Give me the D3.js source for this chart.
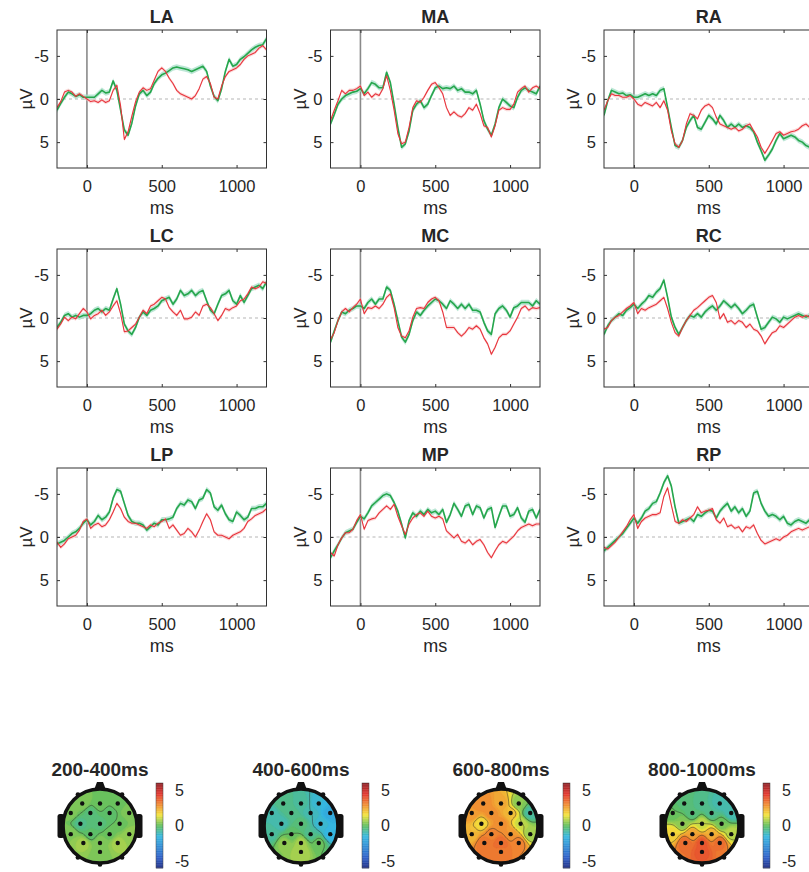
<!DOCTYPE html>
<html>
<head>
<meta charset="utf-8">
<script src="https://cdn.jsdelivr.net/npm/d3@7"></script>
<style>
body { margin: 0; background: #fff; overflow: hidden; }
text { font-family: "Liberation Sans", Arial, Helvetica, sans-serif; fill: #262626; }
</style>
</head>
<body>
<div id="chart"></div>
<script>
// time grid (ms)
var times = [-200,-175,-150,-125,-100,-75,-50,-25,0,25,50,75,100,125,150,175,200,225,250,275,300,325,350,375,400,
  425,450,475,500,525,550,575,600,625,650,675,700,725,750,775,800,825,850,875,900,925,950,975,1000,
  1025,1050,1075,1100,1125,1150,1175,1200];

var regions = ["LA", "MA", "RA", "LC", "MC", "RC", "LP", "MP", "RP"];
var xTicks = [0, 500, 1000];
var yTicks = [-5, 0, 5];

// waveforms in µV (negative plotted up)
var LA_green = [1.3,0.5,-0.2,-0.8,-0.6,-0.3,-0.5,-0.2, -0.2, -0.2,-0.2,-0.6,-1.0, -0.7,-0.8,-2.1,-1.0, 1.3,3.6,4.2,2.8, 0.8,-0.6,-1.0,-0.4, -0.8,-1.8,-2.4,-2.8, -3.0,-3.3,-3.6,-3.7, -3.6,-3.5,-3.4,-3.2, -3.4,-3.6,-3.8,-3.2, -1.5,-0.3,0.2,-1.2, -3.2,-4.6,-3.8,-4.0, -4.6,-4.9,-5.3,-5.7, -6.0,-6.2,-6.3,-7.0];
var LA_red = [1.0,0.3,-0.8,-1.0,-0.8,-0.3,-0.6,-0.3, 0.0, 0.3,0.2,0.4,0.1, 0.4,0.2,-1.0,-1.6, 0.8,4.7,3.8,2.0, 0.3,-0.8,-1.3,-1.0, -1.2,-2.2,-3.2,-3.6, -3.2,-2.4,-1.8,-1.0, -0.6,-0.4,-0.2,0.0, -0.4,-1.2,-2.3,-2.6, -1.8,-0.2,0.0,-1.5, -2.6,-3.2,-3.4,-3.6, -4.0,-4.6,-5.0,-5.2, -5.4,-5.9,-6.2,-5.7];
var MA_green = [2.9,1.8,0.6,0.0,-0.4,-0.6,-0.8,-0.9, -1.2, -0.6,-1.2,-1.9,-1.7, -1.3,-1.3,-3.1,-1.9, 0.6,3.3,5.6,5.2, 3.7,1.3,0.6,0.2, 1.0,0.6,-0.4,-1.3, -1.5,-1.2,-1.3,-1.2, -1.5,-1.0,-1.2,-0.8, -0.8,-0.6,-1.0,0.6, 2.5,3.5,4.2,2.9, 1.0,0.0,0.4,0.8, 1.0,-0.2,-1.0,-1.3, -1.0,-0.8,-0.6,-1.5];
var MA_red = [2.5,1.3,0.2,-1.0,-0.6,-1.0,-1.0,-1.2, -1.5, -0.4,-0.8,-0.2,-0.6, -0.4,-1.2,-2.7,-1.0, 1.3,4.0,5.2,5.0, 3.3,1.0,0.2,0.4, -0.2,-1.0,-1.7,-1.9, -1.3,-0.6,1.0,1.9, 1.5,1.9,2.1,1.7, 1.0,1.3,0.6,1.7, 3.1,3.3,4.4,3.1, 1.3,1.0,1.2,1.2, 0.6,-0.8,-1.2,-1.5, -0.8,-1.3,-1.5,-1.2];
var RA_green = [1.9,0.2,-1.0,-0.8,-0.6,-0.7,-0.4,-0.5, -0.2, -0.2,-0.4,-0.6,-0.4, -0.6,-0.4,-1.0,-1.2, 1.0,3.3,5.4,5.6, 4.8,3.3,2.5,1.9, 3.3,3.5,2.7,1.9, 2.3,2.9,1.9,2.5, 3.3,2.9,3.3,2.9, 3.3,3.1,3.3,3.8, 5.0,6.0,7.1,6.5, 5.8,4.8,4.0,4.6, 4.4,4.2,4.4,4.8, 5.0,5.4,5.6,5.8];
var RA_red = [1.3,0.2,-0.6,-0.4,-0.4,-0.2,-0.2,-0.4, 0.0, 0.6,0.8,0.4,0.6, 0.8,0.4,1.0,0.2, 1.3,3.7,5.2,5.6, 4.8,2.9,1.7,1.9, 2.3,1.3,0.8,0.6, 1.0,2.1,2.9,3.1, 3.3,3.5,3.3,3.7, 3.5,3.1,2.9,3.7, 4.4,5.6,6.3,5.6, 4.8,4.0,3.8,4.2, 4.0,3.8,3.7,3.5, 3.1,2.9,3.3,3.1];
var LC_green = [1.1,0.5,-0.3,-0.5,-0.1,-0.3,-0.1,-0.3, -0.3, -0.5,-0.9,-1.1,-0.7, -1.1,-0.9,-2.2,-3.4, -1.6,0.7,1.5,1.9, 1.1,-0.1,-0.7,-0.3, -0.9,-1.1,-1.4,-2.0, -2.2,-2.4,-1.6,-2.2, -3.2,-2.6,-2.8,-3.2, -2.6,-3.0,-3.2,-2.0, -0.9,-0.5,-1.6,-2.6, -2.8,-3.2,-2.0,-1.6, -2.6,-1.8,-2.6,-3.4, -3.6,-3.8,-3.4,-4.2];
var LC_red = [1.3,0.7,-0.1,0.3,-0.1,0.1,-0.5,-1.1, -0.7, 0.1,-0.3,-0.5,-0.9, -0.3,-0.7,-1.4,-2.0, -0.5,1.6,1.5,1.1, 0.7,-0.1,-0.9,-0.5, -1.4,-1.6,-2.0,-2.4, -2.2,-1.2,-0.7,-0.3, -0.9,0.1,0.1,-0.1, -0.7,-0.3,-1.4,-1.6, -1.2,-0.5,0.3,-0.3, -1.1,-0.9,-1.2,-1.4, -2.0,-2.2,-2.8,-3.6, -3.4,-3.6,-4.2,-4.0];
var MC_green = [2.8,1.5,0.3,-0.7,-0.5,-0.9,-1.1,-1.4, -1.4, -1.1,-1.8,-2.2,-1.6, -2.2,-2.2,-3.6,-3.2, -1.6,0.3,2.2,2.8, 1.9,0.3,-0.7,-0.3, -0.9,-1.4,-1.8,-2.2, -2.0,-1.6,-1.1,-2.0, -1.6,-1.1,-1.6,-1.1, -1.6,-0.9,-0.9,-0.7, 0.5,1.5,1.9,-0.5, -1.1,-1.4,-0.9,-0.1, -1.2,-1.4,-1.8,-1.8, -1.8,-1.4,-2.0,-1.6];
var MC_red = [2.5,1.7,0.3,-0.7,-1.1,-0.7,-1.2,-1.6, -2.2, -0.5,-1.2,-1.1,-1.4, -1.1,-1.6,-2.4,-2.8, -1.2,1.1,2.1,2.3, 1.5,-0.1,-1.1,-1.2, -1.1,-1.8,-2.2,-2.4, -2.0,-0.7,1.1,1.1, 1.1,1.7,2.1,1.7, 1.1,1.3,0.9,1.3, 2.3,3.0,4.2,3.4, 2.3,1.9,1.9,1.5, 0.7,-0.1,-1.1,-1.4, -0.9,-1.2,-1.1,-1.2];
var RC_green = [1.9,0.9,0.3,-0.1,-0.5,-0.3,-0.9,-1.2, -1.6, -1.1,-1.6,-2.0,-2.6, -2.4,-3.0,-3.4,-4.4, -2.4,-0.1,1.1,1.9, 1.1,0.3,-0.3,-0.1, -0.5,-0.1,-0.7,-1.1, -1.4,-0.9,-1.4,-2.0, -1.6,-1.2,-1.6,-1.1, -0.5,-0.9,-1.4,-1.6, -0.1,1.3,1.1,0.5, -0.1,0.1,0.5,-0.1, 0.1,-0.1,-0.3,-0.5, -0.3,-0.1,-0.3,-0.5];
var RC_red = [1.3,1.1,0.3,-0.1,-0.3,-0.7,-1.1,-1.4, -1.8, -0.5,-1.1,-0.9,-1.2, -1.4,-1.6,-2.0,-2.4, -1.1,0.5,1.7,2.1, 1.1,0.3,-0.3,-0.9, -1.2,-1.6,-2.0,-2.4, -2.6,-1.8,0.1,-0.5, 0.5,0.3,0.7,0.3, 0.5,1.1,0.7,1.3, 1.5,2.1,3.0,2.3, 1.7,1.5,0.9,1.1, 0.7,0.3,-0.1,-0.3, -0.1,-0.3,-0.1,-0.3];
var LP_green = [0.8,0.6,0.4,0.0,-0.4,-0.6,-1.0,-1.6, -2.0, -1.4,-1.8,-2.5,-2.0, -2.3,-2.9,-4.5,-5.5, -5.3,-3.9,-2.5,-1.8, -1.6,-1.6,-1.4,-0.8, -1.2,-1.6,-1.4,-2.0, -2.0,-2.1,-2.3,-3.3, -3.9,-3.7,-4.3,-4.1, -3.3,-4.3,-4.5,-5.5, -5.1,-3.5,-3.1,-3.7, -2.7,-2.0,-1.8,-2.9, -2.5,-2.0,-2.3,-3.3, -3.3,-3.5,-3.5,-3.9];
var LP_red = [0.6,1.2,0.8,0.2,0.0,-0.2,-0.8,-1.8, -2.1, -1.0,-1.4,-1.6,-1.2, -1.4,-2.0,-2.9,-3.9, -3.3,-2.3,-1.8,-1.6, -1.6,-1.4,-1.2,-1.0, -1.4,-1.2,-1.6,-1.8, -2.1,-1.0,-1.4,-0.8, -0.2,-0.4,-1.0,-0.6, 0.0,-0.8,-1.8,-2.7, -2.0,-0.6,-0.2,-0.2, 0.0,0.2,-0.2,-0.4, -0.6,-1.0,-1.8,-2.1, -2.5,-2.7,-2.9,-3.3];
var MP_green = [2.4,1.6,0.9,0.1,-0.5,-0.7,-0.9,-1.7, -2.4, -2.1,-2.8,-3.6,-4.0, -4.4,-4.8,-5.0,-4.8, -4.0,-3.0,-1.5,0.1, -1.9,-2.8,-2.4,-3.0, -2.6,-3.2,-2.8,-3.0, -2.6,-3.2,-1.7,-2.6, -3.9,-3.2,-2.4,-3.6, -3.8,-2.6,-3.6,-3.4, -2.2,-3.2,-3.4,-1.1, -2.4,-3.6,-3.6,-2.4, -2.6,-3.4,-2.2,-1.7, -3.0,-3.2,-2.2,-3.2];
var MP_red = [1.8,2.2,0.9,0.1,-0.5,-0.5,-0.9,-1.9, -2.6, -0.9,-1.9,-2.1,-2.2, -2.8,-3.2,-3.6,-3.2, -3.8,-2.4,-1.3,-0.3, -1.5,-2.2,-2.6,-2.8, -2.4,-3.0,-2.4,-2.2, -2.4,-2.1,-0.7,-0.3, 0.1,-0.3,0.5,0.7, 0.3,0.9,0.5,0.3, 0.9,1.8,2.4,1.6, 0.9,0.5,0.7,0.3, -0.1,-0.7,-1.1,-1.3, -1.5,-1.3,-1.5,-1.5];
var RP_green = [1.6,1.2,0.8,0.4,0.0,-0.4,-1.0,-1.6, -2.2, -1.6,-2.2,-3.0,-3.3, -3.9,-4.1,-5.1,-6.3, -7.1,-5.9,-3.5,-1.6, -1.8,-2.0,-2.2,-1.8, -2.6,-2.4,-2.8,-3.1, -3.0,-2.2,-3.0,-3.5, -3.9,-3.0,-3.5,-2.8, -3.3,-2.4,-3.0,-5.1, -5.3,-3.9,-3.0,-2.4, -2.6,-2.4,-2.0,-2.4, -1.6,-1.4,-1.8,-2.0, -1.8,-1.6,-2.0,-1.8];
var RP_red = [1.2,1.4,1.0,0.6,0.0,-0.6,-1.2,-2.0, -2.6, -1.0,-1.8,-2.2,-2.4, -2.6,-2.6,-2.8,-4.7, -5.7,-3.7,-1.8,-1.6, -2.0,-1.8,-2.2,-2.6, -3.5,-2.8,-3.0,-3.1, -3.3,-2.0,-1.6,-2.2, -1.2,-1.4,-1.0,-1.2, -0.6,-1.2,-1.0,-1.4, -0.4,0.4,0.8,0.6, 0.4,0.2,0.4,0.0, -0.2,-0.6,-0.8,-1.0, -0.8,-1.0,-1.2,-1.0];

var greenSeries = [LA_green, MA_green, RA_green, LC_green, MC_green, RC_green, LP_green, MP_green, RP_green];
var redSeries = [LA_red, MA_red, RA_red, LC_red, MC_red, RC_red, LP_red, MP_red, RP_red];

// topographic maps: electrode positions (head radius = 1) and mean amplitudes
var windows = ["200-400ms", "400-600ms", "600-800ms", "800-1000ms"];
var elecX = [-0.48, 0, 0.48, -0.79, -0.26, 0.26, 0.79, -0.53, 0, 0.53, -0.79, -0.26, 0.26, 0.79, -0.45, 0, 0.48, 0];
var elecY = [-0.61, -0.61, -0.61, -0.35, -0.35, -0.35, -0.35, -0.06, -0.06, -0.06, 0.22, 0.22, 0.22, 0.22, 0.46, 0.46, 0.46, 0.70];
var map200 = [0.4, 0.2, 0.1, 0.3, -0.3, -0.1, 0.4, -0.5, -0.3, 0.0, 0.4, -0.2, 0.1, 0.5, 0.7, 0.4, 0.7, 0.3];
var map400 = [-0.4, -0.7, -1.4, -0.9, -0.5, -1.0, -1.9, -1.0, -0.3, -1.3, -0.7, 0.0, -0.6, -1.6, 0.5, 0.7, 0.1, 0.8];
var map600 = [3.0, 2.5, 0.4, 2.8, 2.9, 2.2, -0.8, 1.6, 2.9, 1.0, 2.2, 3.1, 2.8, 0.6, 3.4, 3.6, 3.2, 3.3];
var map800 = [-0.3, -0.6, -1.0, 0.0, -0.4, -0.6, -1.0, 0.4, 1.0, 0.2, 1.8, 2.6, 2.4, 0.9, 3.6, 3.9, 3.5, 3.9];
var mapValues = [map200, map400, map600, map800];
var cbTicks = [-5, 0, 5];
// rim markers, degrees clockwise from the nose
var rimAngles = [-35, 35, -145, 145, 180];

// ---------- layout ----------
var W = 809, H = 872;
var colLeft = [57, 330.5, 604], rowTop = [30, 249, 468];
var plotW = 209.5, plotH = 138;
var headX = [100, 301, 501, 702], headY = 826, R = 37;
var cbX = [156, 362, 563, 763], cbW = 7, cbTop = 783, cbBottom = 868;

var svg = d3.select("#chart").append("svg")
    .attr("width", W)
    .attr("height", H);

var x = d3.scaleLinear().domain([-200, 1200]).range([0, plotW]);
var y = d3.scaleLinear().domain([-8, 8]).range([0, plotH]);

var line = d3.line()
    .x(function (d, i) { return x(times[i]); })
    .y(function (d) { return y(d); });

function band(w) {
    return d3.area()
        .x(function (d, i) { return x(times[i]); })
        .y0(function (d) { return y(d - w); })
        .y1(function (d) { return y(d + w); });
}

function styleAxis(a) {
    a.select(".domain").remove();
    a.attr("font-size", 16.5).attr("font-family", null).attr("color", "#333");
    a.selectAll(".tick line").attr("stroke", "#333");
}

regions.forEach(function (name, i) {
    var g = svg.append("g")
        .attr("transform", "translate(" + colLeft[i % 3] + "," + rowTop[Math.floor(i / 3)] + ")");

    g.append("clipPath").attr("id", "clip" + i)
        .append("rect").attr("width", plotW).attr("height", plotH);

    g.append("line")
        .attr("x1", 0).attr("x2", plotW)
        .attr("y1", y(0)).attr("y2", y(0))
        .attr("stroke", "#b5b5b5").attr("stroke-width", 1)
        .attr("stroke-dasharray", "3,3");

    g.append("line")
        .attr("x1", x(0)).attr("x2", x(0))
        .attr("y1", 0).attr("y2", plotH)
        .attr("stroke", "#8a8a8a").attr("stroke-width", 1.6);

    var plot = g.append("g").attr("clip-path", "url(#clip" + i + ")");
    plot.append("path").datum(greenSeries[i])
        .attr("d", band(0.32)).attr("fill", "#a7dfc8").attr("opacity", 0.75);
    plot.append("path").datum(redSeries[i])
        .attr("d", band(0.22)).attr("fill", "#f6c0c0").attr("opacity", 0.6);
    plot.append("path").datum(greenSeries[i])
        .attr("d", line).attr("fill", "none")
        .attr("stroke", "#26a64c").attr("stroke-width", 1.6).attr("stroke-linejoin", "round");
    plot.append("path").datum(redSeries[i])
        .attr("d", line).attr("fill", "none")
        .attr("stroke", "#e8343c").attr("stroke-width", 1.1).attr("stroke-linejoin", "round");

    g.append("g").attr("transform", "translate(0," + plotH + ")")
        .call(d3.axisBottom(x).tickValues(xTicks).tickSize(-3).tickPadding(12.5).tickFormat(String))
        .call(styleAxis);
    g.append("g")
        .call(d3.axisTop(x).tickValues(xTicks).tickSize(-3).tickFormat(""))
        .call(styleAxis);
    g.append("g")
        .call(d3.axisLeft(y).tickValues(yTicks).tickSize(-3).tickPadding(8).tickFormat(String))
        .call(styleAxis);
    g.append("g").attr("transform", "translate(" + plotW + ",0)")
        .call(d3.axisRight(y).tickValues(yTicks).tickSize(-3).tickFormat(""))
        .call(styleAxis);

    g.append("rect")
        .attr("width", plotW).attr("height", plotH)
        .attr("fill", "none").attr("stroke", "#333").attr("stroke-width", 1);

    g.append("text")
        .attr("x", plotW / 2).attr("y", -7)
        .attr("text-anchor", "middle")
        .attr("font-size", 18).attr("font-weight", "bold")
        .text(name);

    g.append("text")
        .attr("x", plotW / 2).attr("y", plotH + 46)
        .attr("text-anchor", "middle")
        .attr("font-size", 18)
        .text("ms");

    g.append("text")
        .attr("transform", "translate(-25," + (plotH / 2) + ") rotate(-90)")
        .attr("text-anchor", "middle")
        .attr("font-size", 17)
        .text("µV");
});

// ---------- topographic maps ----------
var color = d3.scaleLinear()
    .domain([-6, -4.5, -1.5, 0, 1.5, 3, 4.5, 6])
    .range(["#1d2a80", "#2d5ec8", "#35b6e0", "#5fbf5f", "#f3e43c", "#f08a31", "#e2352e", "#8f1d22"]);

var n = 64, ext = 1.15;
var fillLevels = d3.range(-6, 6.001, 0.2);
var lineLevels = [-5, -4, -3, -2, -1, 0, 1, 2, 3, 4, 5];

function gridValues(vals) {
    var out = new Array(n * n);
    for (var j = 0; j < n; j++) {
        for (var k = 0; k < n; k++) {
            var gx = -ext + (k + 0.5) * 2 * ext / n;
            var gy = -ext + (j + 0.5) * 2 * ext / n;
            var num = 0, den = 0;
            for (var e = 0; e < vals.length; e++) {
                var d2 = (gx - elecX[e]) * (gx - elecX[e]) + (gy - elecY[e]) * (gy - elecY[e]) + 1e-4;
                var w = 1 / (d2 * d2);
                num += w * vals[e];
                den += w;
            }
            out[j * n + k] = num / den;
        }
    }
    return out;
}

windows.forEach(function (label, m) {
    var cx = headX[m];
    var g = svg.append("g");

    g.append("clipPath").attr("id", "head" + m)
        .append("circle").attr("cx", cx).attr("cy", headY).attr("r", R);

    var proj = d3.geoIdentity()
        .scale(2 * ext * R / n)
        .translate([cx - ext * R, headY - ext * R]);
    var path = d3.geoPath(proj);
    var grid = gridValues(mapValues[m]);

    var field = g.append("g").attr("clip-path", "url(#head" + m + ")");
    field.selectAll("path.fill")
        .data(d3.contours().size([n, n]).thresholds(fillLevels)(grid))
        .join("path")
        .attr("class", "fill")
        .attr("d", path)
        .attr("fill", function (c) { return color(c.value + 0.1); })
        .attr("stroke", function (c) { return color(c.value + 0.1); })
        .attr("stroke-width", 0.3);
    field.selectAll("path.iso")
        .data(d3.contours().size([n, n]).thresholds(lineLevels)(grid))
        .join("path")
        .attr("class", "iso")
        .attr("d", path)
        .attr("fill", "none")
        .attr("stroke", "#2a2a2a")
        .attr("stroke-width", 0.6)
        .attr("stroke-opacity", 0.8);

    // ears and nose
    [-1, 1].forEach(function (s) {
        g.append("rect")
            .attr("x", s < 0 ? cx - R - 5.5 : cx + R - 1.5)
            .attr("y", headY - 12).attr("width", 7).attr("height", 24)
            .attr("rx", 2.5).attr("fill", "#111");
    });
    g.append("path")
        .attr("d", "M" + (cx - 6) + "," + (headY - R + 1) +
            "L" + (cx - 3) + "," + (headY - R - 7) +
            "L" + (cx + 3) + "," + (headY - R - 7) +
            "L" + (cx + 6) + "," + (headY - R + 1) + "Z")
        .attr("fill", "#111");

    g.append("circle")
        .attr("cx", cx).attr("cy", headY).attr("r", R)
        .attr("fill", "none").attr("stroke", "#111").attr("stroke-width", 3.5);

    g.selectAll("circle.rim")
        .data(rimAngles)
        .join("circle")
        .attr("class", "rim")
        .attr("cx", function (a) { return cx + Math.sin(a * Math.PI / 180) * (R + 1.5); })
        .attr("cy", function (a) { return headY - Math.cos(a * Math.PI / 180) * (R + 1.5); })
        .attr("r", 2.3)
        .attr("fill", "#111");

    g.selectAll("circle.el")
        .data(mapValues[m])
        .join("circle")
        .attr("class", "el")
        .attr("cx", function (d, e) { return cx + elecX[e] * R; })
        .attr("cy", function (d, e) { return headY + elecY[e] * R; })
        .attr("r", 2.2)
        .attr("fill", "#111");

    g.append("text")
        .attr("x", cx).attr("y", 776)
        .attr("text-anchor", "middle")
        .attr("font-size", 19).attr("font-weight", "bold")
        .text(label);

    // colorbar
    var cb = d3.scaleLinear().domain([-6, 6]).range([cbBottom, cbTop]);
    var steps = d3.range(-6, 6, 0.1);
    g.selectAll("rect.cb")
        .data(steps)
        .join("rect")
        .attr("class", "cb")
        .attr("x", cbX[m]).attr("width", cbW)
        .attr("y", function (d) { return cb(d + 0.1); })
        .attr("height", function (d) { return cb(d) - cb(d + 0.1) + 0.3; })
        .attr("fill", function (d) { return color(d + 0.05); });
    g.append("rect")
        .attr("x", cbX[m]).attr("y", cbTop).attr("width", cbW).attr("height", cbBottom - cbTop)
        .attr("fill", "none").attr("stroke", "#444").attr("stroke-width", 0.5);
    g.selectAll("text.cbl")
        .data(cbTicks)
        .join("text")
        .attr("class", "cbl")
        .attr("x", cbX[m] + cbW + 12)
        .attr("y", function (d) { return cb(d); })
        .attr("dy", "0.36em")
        .attr("font-size", 16)
        .text(String);
});
</script>
</body>
</html>
